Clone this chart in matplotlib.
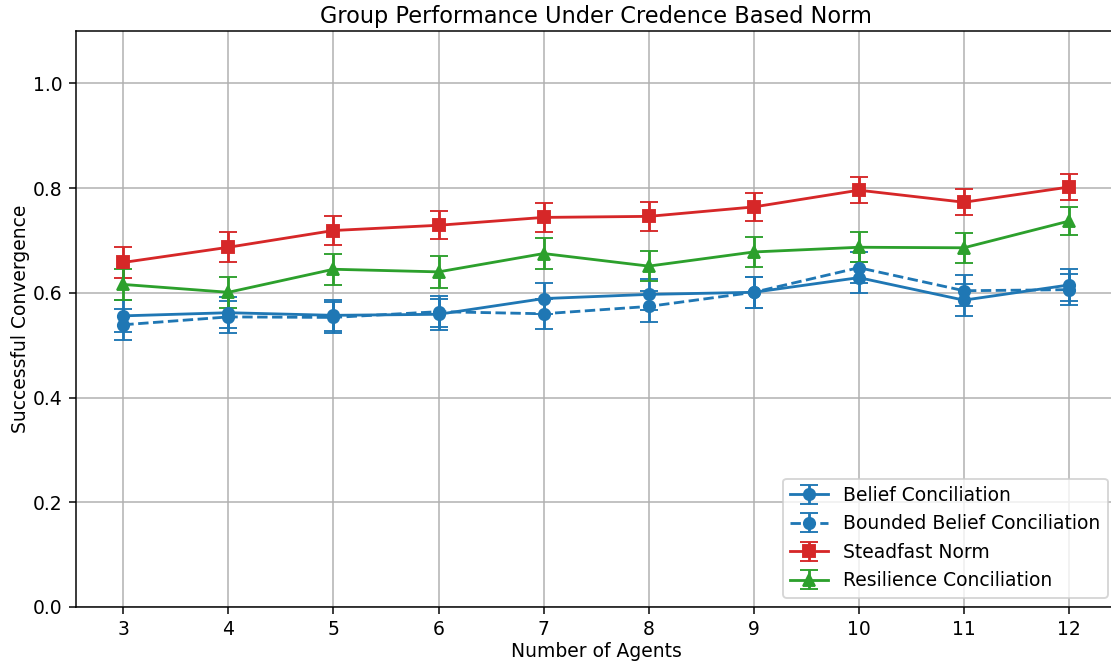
import matplotlib
matplotlib.use("Agg")
import matplotlib.pyplot as plt
import numpy as np

agents = [3, 4, 5, 6, 7, 8, 9, 10, 11, 12]

belief = [0.556, 0.562, 0.557, 0.559, 0.589, 0.597, 0.601, 0.629, 0.586, 0.615]
belief_err = [0.030, 0.030, 0.030, 0.030, 0.030, 0.030, 0.030, 0.030, 0.030, 0.030]

bounded = [0.539, 0.554, 0.553, 0.564, 0.560, 0.574, 0.601, 0.648, 0.604, 0.606]
bounded_err = [0.030, 0.030, 0.030, 0.030, 0.029, 0.030, 0.030, 0.030, 0.030, 0.030]

steadfast = [0.658, 0.687, 0.719, 0.729, 0.744, 0.746, 0.764, 0.796, 0.773, 0.802]
steadfast_err = [0.029, 0.029, 0.028, 0.027, 0.027, 0.027, 0.026, 0.025, 0.025, 0.025]

resilience = [0.616, 0.601, 0.645, 0.640, 0.675, 0.651, 0.678, 0.687, 0.686, 0.737]
resilience_err = [0.030, 0.030, 0.030, 0.030, 0.029, 0.029, 0.029, 0.029, 0.029, 0.027]

dpi = 135
fig = plt.figure(figsize=(1111 / dpi, 661 / dpi), dpi=dpi)
W, H = 1111, 661
ax = fig.add_axes([76 / W, (H - 607) / H, (1116.3 - 76) / W, (607 - 31) / H])

ax.errorbar(agents, belief, yerr=belief_err, fmt='-o', color='#1f77b4', capsize=5, label='Belief Conciliation')
ax.errorbar(agents, bounded, yerr=bounded_err, fmt='--o', color='#1f77b4', capsize=5, label='Bounded Belief Conciliation')
ax.errorbar(agents, steadfast, yerr=steadfast_err, fmt='-s', color='#d62728', capsize=5, label='Steadfast Norm')
ax.errorbar(agents, resilience, yerr=resilience_err, fmt='-^', color='#2ca02c', capsize=5, label='Resilience Conciliation')

ax.set_xlim(2.55, 12.45)
ax.set_ylim(0, 1.1)
ax.set_xticks(agents)
ax.set_yticks([0.0, 0.2, 0.4, 0.6, 0.8, 1.0])
ax.grid(True)
ax.set_xlabel('Number of Agents', labelpad=1.3)
ax.set_ylabel('Successful Convergence', labelpad=1.8)
ax.set_title('Group Performance Under Credence Based Norm', pad=4.4)
ax.legend(loc='lower right', bbox_to_anchor=((1117 - 76) / (1116.3 - 76), 0.0), bbox_transform=ax.transAxes)

fig.savefig('out.png', dpi=dpi)
